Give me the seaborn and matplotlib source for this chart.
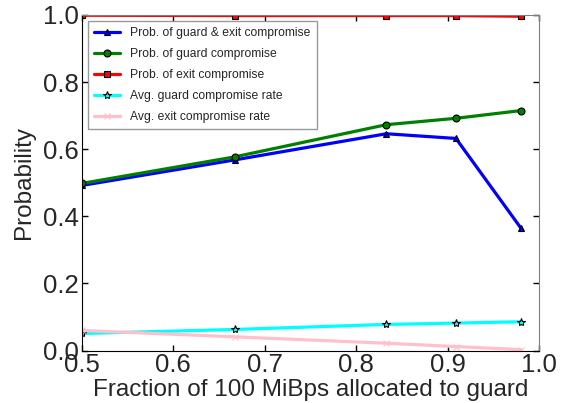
import matplotlib
matplotlib.use("Agg")
import matplotlib.pyplot as plt
import seaborn as sns
import pandas as pd

fractions = [0.5, 0.667, 0.833, 0.909, 0.980]
guard_exit = [0.492, 0.568, 0.646, 0.632, 0.365]
guard = [0.498, 0.577, 0.673, 0.692, 0.715]
exit_ = [0.999, 0.998, 0.998, 0.998, 0.996]
avg_guard = [0.051, 0.063, 0.078, 0.082, 0.086]
avg_exit = [0.060, 0.041, 0.022, 0.012, 0.003]

series_names = ["Prob. of guard & exit compromise", "Prob. of guard compromise",
                "Prob. of exit compromise", "Avg. guard compromise rate",
                "Avg. exit compromise rate"]
series_vals = [guard_exit, guard, exit_, avg_guard, avg_exit]
colors = ["blue", "green", "red", "cyan", "pink"]
markers = ["^", "o", "s", "*", "x"]

rows = []
for n, vals in zip(series_names, series_vals):
    for f, v in zip(fractions, vals):
        rows.append({"frac": f, "val": v, "series": n})
df = pd.DataFrame(rows)

sns.set_style("ticks")
plt.rcParams['font.family'] = ['Liberation Sans', 'DejaVu Sans']
plt.rcParams['xtick.direction'] = 'in'
plt.rcParams['ytick.direction'] = 'in'

fig = plt.figure(figsize=(5.64, 4.03), dpi=100)
ax = fig.add_axes([0.145, 0.130, 0.811, 0.833])

for n, c, m in zip(series_names, colors, markers):
    sub = df[df.series == n]
    sns.lineplot(data=sub, x="frac", y="val", ax=ax, color=c, marker=m,
                 markersize=5 if m != "*" else 6, markeredgecolor="black" if m != "x" else c,
                 markeredgewidth=0.8, linewidth=2.3, label=n)

ax.set_xlim(0.5, 1.0)
ax.set_ylim(0.0, 1.0)
ax.set_xticks([0.5, 0.6, 0.7, 0.8, 0.9, 1.0])
ax.set_yticks([0.0, 0.2, 0.4, 0.6, 0.8, 1.0])
ax.set_xticklabels(["0.5", "0.6", "0.7", "0.8", "0.9", "1.0"])
ax.set_yticklabels(["0.0", "0.2", "0.4", "0.6", "0.8", "1.0"])
ax.tick_params(labelsize=18.5, top=True, right=True, length=4, width=1, color="black", pad=2)
ax.set_xlabel("Fraction of 100 MiBps allocated to guard", fontsize=17.5, labelpad=1)
ax.set_ylabel("Probability", fontsize=17.5, labelpad=6)
for s in ["top", "right"]:
    ax.spines[s].set_color("gray")
    ax.spines[s].set_visible(True)
for s in ["left", "bottom"]:
    ax.spines[s].set_color("black")

leg = ax.legend(loc="upper left", fontsize=8.7, frameon=True, fancybox=False,
                edgecolor="gray", borderaxespad=0.5, handlelength=2.2,
                labelspacing=0.75, borderpad=0.5)
leg.get_frame().set_linewidth(1)

fig.savefig("out.png", dpi=100)
